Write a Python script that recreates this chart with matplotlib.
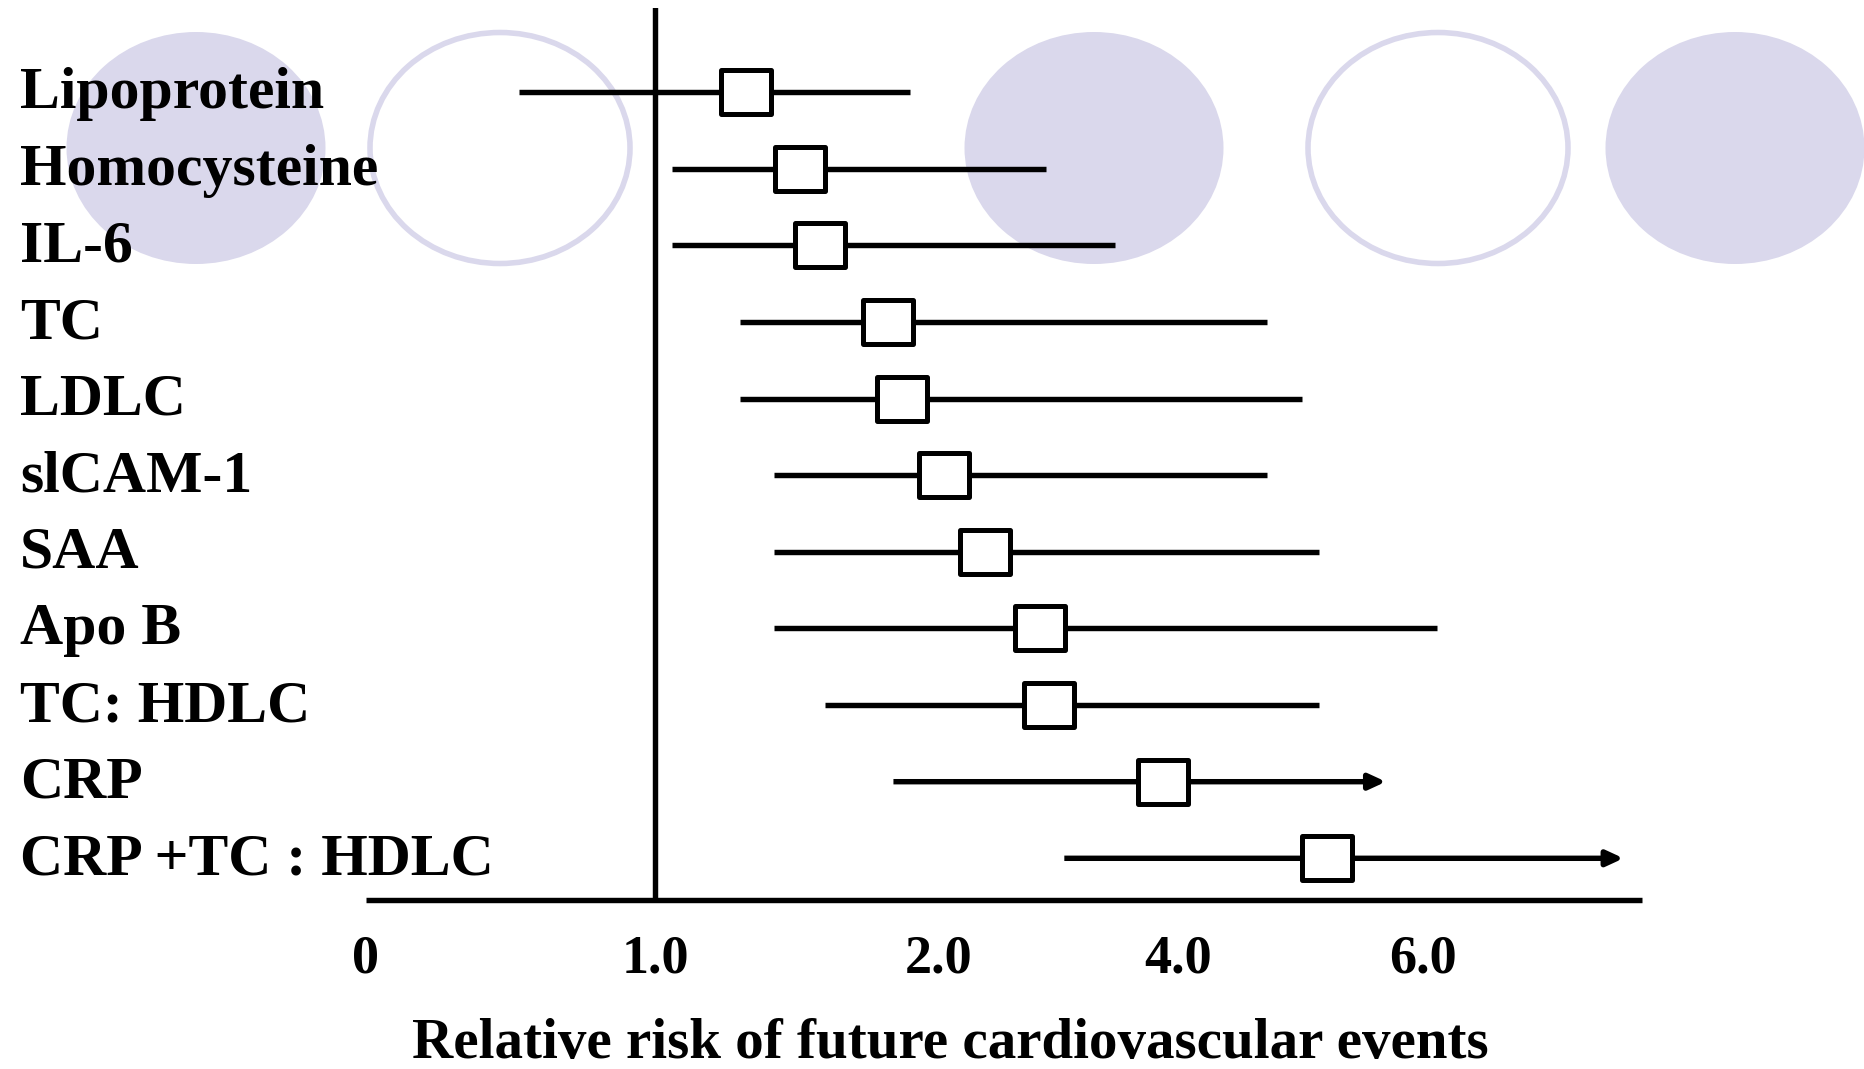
import numpy as np
import matplotlib
matplotlib.use("Agg")
import matplotlib.pyplot as plt
from matplotlib.patches import Ellipse
from matplotlib.path import Path
from matplotlib.markers import MarkerStyle

# ---- data -------------------------------------------------------------
marker_names = [
    "Lipoprotein", "Homocysteine", "IL-6", "TC", "LDLC", "slCAM-1",
    "SAA", "Apo B", "TC: HDLC", "CRP", "CRP +TC : HDLC",
]
relative_risk = [1.32, 1.51, 1.58, 1.82, 1.87, 2.04, 2.39, 2.85, 2.92, 3.88, 5.22]
ci_low = [0.53, 1.06, 1.06, 1.30, 1.30, 1.42, 1.42, 1.42, 1.60, 1.84, 3.05]
ci_high = [1.90, 2.90, 3.47, 4.73, 5.01, 4.73, 5.15, 6.12, 5.15, 5.70, 7.64]
ci_open_ended = [False, False, False, False, False, False, False, False, False, True, True]

tick_values = [0, 1, 2, 4, 6]
tick_labels = ["0", "1.0", "2.0", "4.0", "6.0"]
x_max = 7.79

# ---- styling ------------------------------------------------------------
W, H, DPI = 1864, 1069, 100
FONT = "Liberation Serif"
DECOR = "#DAD8EC"
LW = 3.9

# piecewise-linear axis: value -> relative position along the axis
SCALE_VALUES = [0, 1, 2, 4, 6, 10]
SCALE_POS = [0, 289, 573, 812, 1057, 1547]


def forward(v):
    return np.interp(v, SCALE_VALUES, SCALE_POS)


def inverse(p):
    return np.interp(p, SCALE_POS, SCALE_VALUES)


fig = plt.figure(figsize=(W / DPI, H / DPI), dpi=DPI)

# decorative background ovals (pixel coordinates)
bg = fig.add_axes([0, 0, 1, 1], zorder=0)
bg.set_xlim(0, W)
bg.set_ylim(H, 0)
bg.axis("off")
for cx, filled in [(196, True), (500, False), (1094, True), (1438, False), (1735, True)]:
    if filled:
        bg.add_patch(Ellipse((cx, 148), 259, 232, facecolor=DECOR, edgecolor="none"))
    else:
        bg.add_patch(Ellipse((cx, 148), 260, 231, facecolor="none", edgecolor=DECOR, lw=4.0))

# main forest plot
left, right, top, bottom = 366, 1642, 7.7, 900
ax = fig.add_axes([left / W, (H - bottom) / H, (right - left) / W, (bottom - top) / H], zorder=1)
ax.patch.set_alpha(0)
ax.set_xscale("function", functions=(forward, inverse))
ax.set_xlim(0, x_max)
row_top, row_step = 92.3, 76.6
ax.set_ylim((bottom - row_top) / row_step, (top - row_top) / row_step)

for s in ("top", "right", "left"):
    ax.spines[s].set_visible(False)
ax.spines["bottom"].set_linewidth(LW)
ax.spines["bottom"].set_capstyle("butt")
ax.set_yticks([])
ax.set_xticks(tick_values)
ax.set_xticklabels(tick_labels, fontfamily=FONT, fontweight="bold", fontsize=39)
ax.tick_params(axis="x", length=0, pad=25)

# reference line at RR = 1
ax.axvline(1.0, color="black", lw=LW, zorder=2)

rows = np.arange(len(marker_names))
box = Path([(-0.5, -0.436), (0.5, -0.436), (0.5, 0.436), (-0.5, 0.436), (-0.5, -0.436)],
           [Path.MOVETO, Path.LINETO, Path.LINETO, Path.LINETO, Path.CLOSEPOLY])
box_marker = MarkerStyle(box, joinstyle="miter")

for y, lo, hi, open_end in zip(rows, ci_low, ci_high, ci_open_ended):
    if open_end:
        ax.annotate("", xy=(hi, y), xytext=(lo, y),
                    arrowprops=dict(arrowstyle="-|>,head_length=10,head_width=4.6",
                                    mutation_scale=1, lw=LW, color="black",
                                    shrinkA=0, shrinkB=0, capstyle="butt"),
                    zorder=3)
    else:
        ax.hlines(y, lo, hi, color="black", lw=LW, zorder=3)

ax.plot(relative_risk, rows, linestyle="none", marker=box_marker, markersize=36.4,
        markerfacecolor="white", markeredgecolor="black", markeredgewidth=3.6, zorder=4)

# row labels at the left edge of the figure
for y, name in zip(rows, marker_names):
    ax.annotate(name, xy=(20, y), xycoords=("figure pixels", "data"),
                xytext=(0, -11.5), textcoords="offset points",
                ha="left", va="baseline", fontfamily=FONT, fontweight="bold",
                fontsize=43, annotation_clip=False)

fig.text(950 / W, 1 - 1058 / H, "Relative risk of future cardiovascular events",
         ha="center", va="baseline", fontfamily=FONT, fontweight="bold", fontsize=41)

fig.savefig("out.png", dpi=DPI)
